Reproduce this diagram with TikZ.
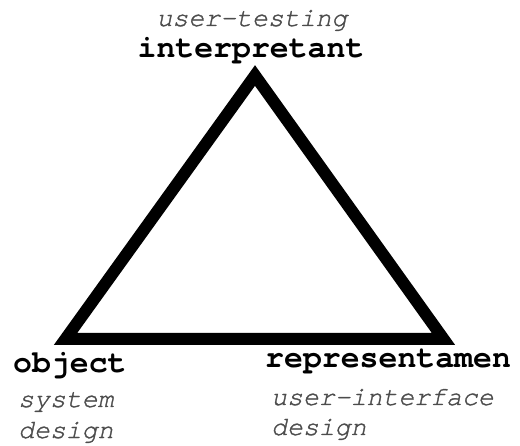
\documentclass[tikz,border=0pt]{standalone}
\usepackage{fontspec}
\newfontfamily\monofam{TeX Gyre Cursor}
\newfontfamily\monoheavy{TeX Gyre Cursor}[FakeBold=1.2]
\begin{document}
\begin{tikzpicture}[x=1pt,y=1pt,
  vertex/.style={font=\monofam\bfseries\fontsize{31.5}{34}\selectfont, inner sep=0pt},
  role/.style={font=\monoheavy\itshape\fontsize{26.5}{30}\selectfont, text=black!70, inner sep=0pt}]
  \useasboundingbox (0,0) rectangle (520,445);
  % corners of the semiotic triangle
  \coordinate (apex) at (255,369.5);
  \coordinate (left) at (65.5,106);
  \coordinate (right) at (443.5,106);
  \draw[line width=12pt, line join=miter] (apex) -- (left) -- (right) -- cycle;
  % top corner
  \node[vertex, anchor=base] (interp) at (251,387) {interpretant};
  \node[role, anchor=base] (interpRole) at (252,419) {user-testing};
  % left corner
  \node[vertex, anchor=base west] (obj) at (13,72) {object};
  \node[role, anchor=base west] (objRoleA) at (18,38) {system};
  \node[role, anchor=base west] (objRoleB) at (18,7) {design};
  % right corner
  \node[vertex, anchor=base west] (repr) at (265,77) {representamen};
  \node[role, anchor=base west] (reprRoleA) at (271,40) {user-interface};
  \node[role, anchor=base west] (reprRoleB) at (271,10) {design};
\end{tikzpicture}
\end{document}
